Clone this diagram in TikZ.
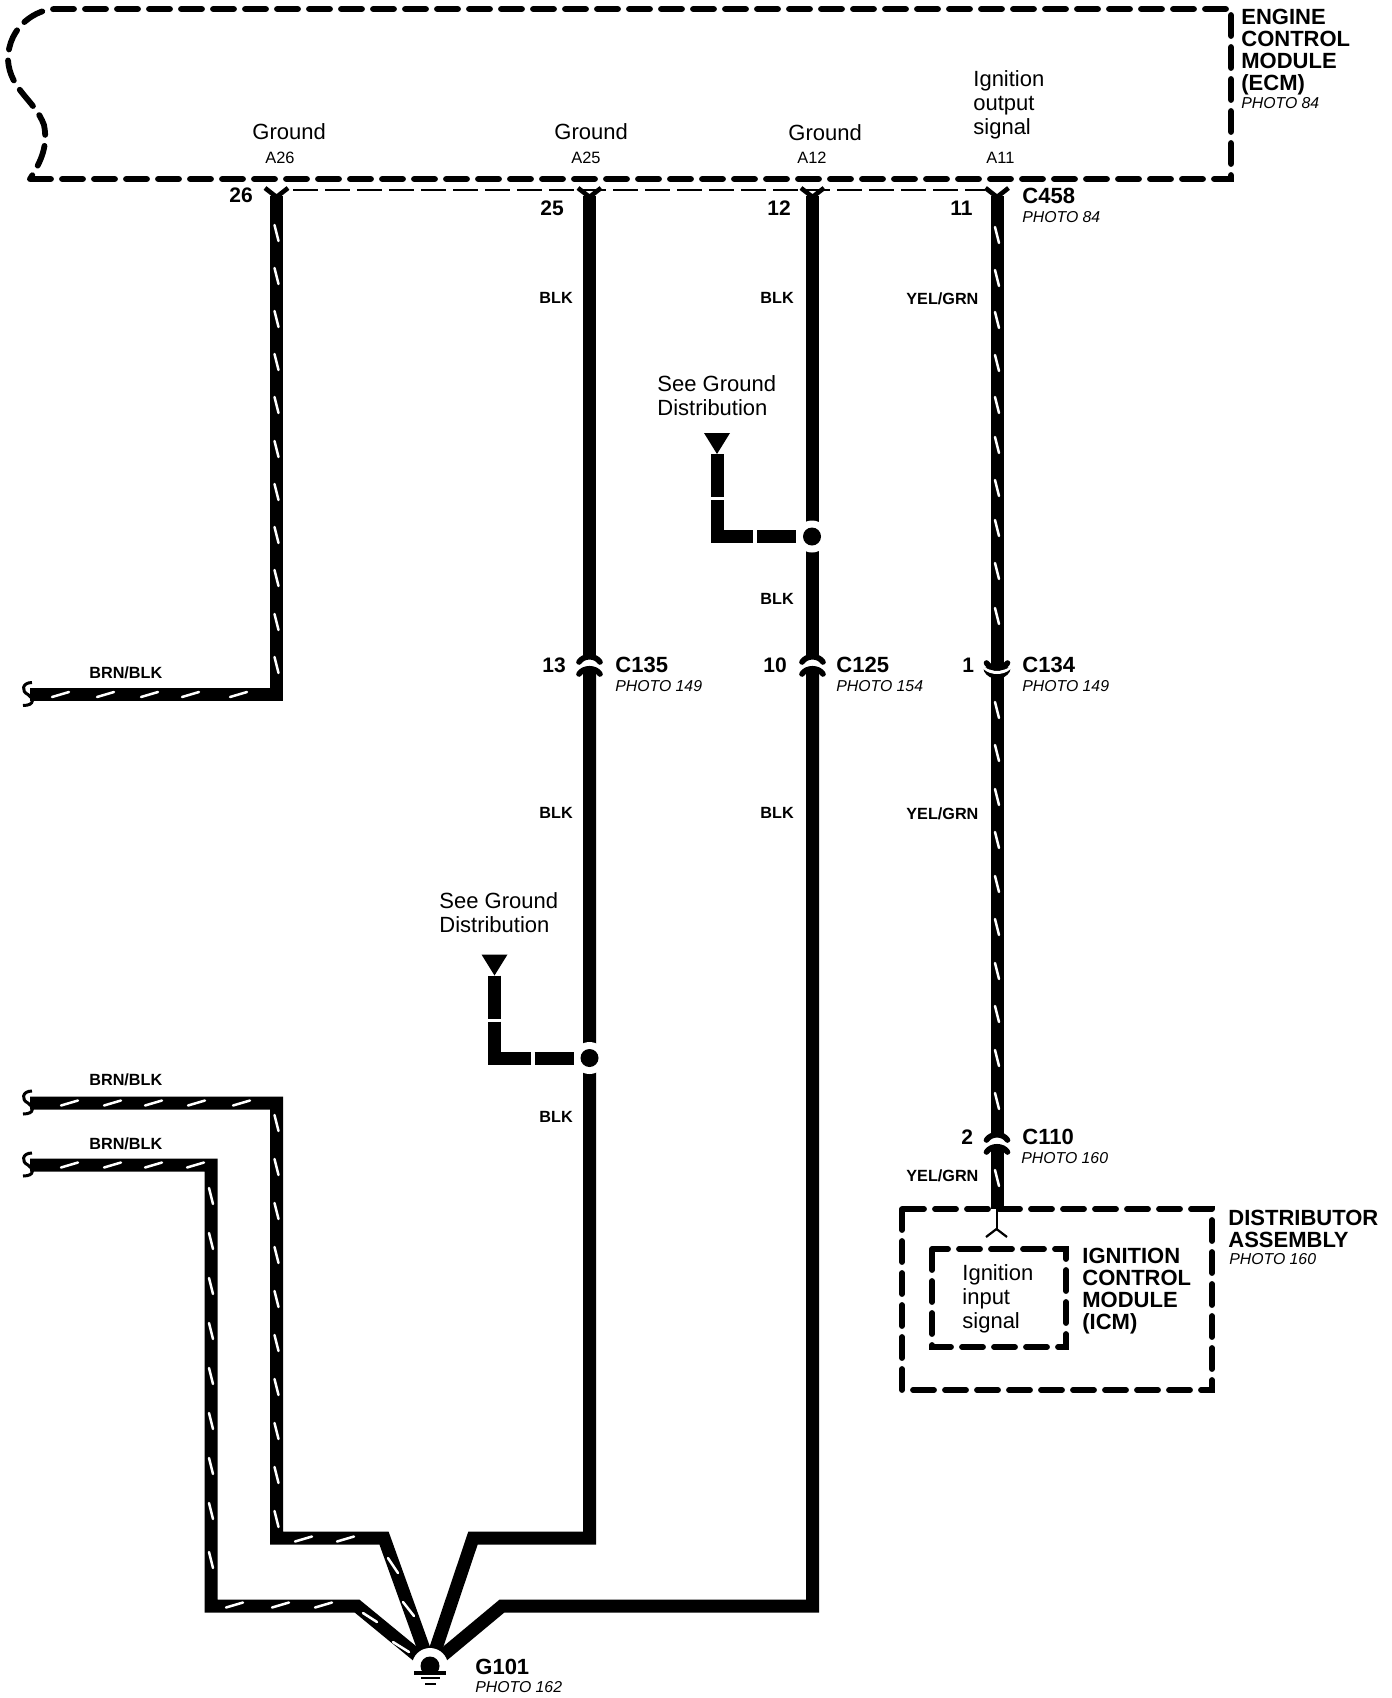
\documentclass[tikz,border=0pt]{standalone}
\usepackage{fontspec}
\setmainfont{Liberation Sans}
\tikzset{
  wire/.style={line width=6.5pt,line join=miter,miter limit=10},
  stripe/.style={white,line width=1.25pt,line cap=round},
  boxdash/.style={line width=2.9pt,line cap=round,dash pattern=on 10.5pt off 5.5pt},
  thindash/.style={line width=1.3pt,dash pattern=on 12.5pt off 3.5pt},
  conarc/.style={line width=2.8pt,line cap=round},
  forkline/.style={line width=2.3pt,line join=miter},
  txtbase/.style={inner sep=0pt,anchor=base west,align=left},
  titletxt/.style={txtbase,font=\fontsize{11}{11}\selectfont\bfseries},
  sigtxt/.style={txtbase,font=\fontsize{11}{12}\selectfont},
  pintxt/.style={txtbase,font=\fontsize{8.2}{9}\selectfont},
  numtxt/.style={txtbase,font=\fontsize{10.5}{11}\selectfont\bfseries},
  conntxt/.style={txtbase,font=\fontsize{11}{12}\selectfont\bfseries},
  phototxt/.style={txtbase,font=\fontsize{7.9}{9}\selectfont\itshape},
  codetxt/.style={txtbase,font=\fontsize{8.1}{9}\selectfont\bfseries}
}
% vertical tracer dashes: #1 x, #2 list of y
\newcommand\vstripes[2]{\foreach \yy in {#2}{\draw[stripe] (#1-2,\yy) -- (#1+2,\yy+16);}}
% horizontal tracer dashes: #1 y, #2 list of x
\newcommand\hstripes[2]{\foreach \xx in {#2}{\draw[stripe] (\xx,#1+2.5) -- (\xx+17,#1-2.5);}}
% mating connector, arcs bulging upward
\newcommand\conup[2]{%
  \draw[conarc] (#1-10.5,#2+8) .. controls (#1-6,#2+1) and (#1+6,#2+1) .. (#1+10.5,#2+8);
  \draw[conarc] (#1-10.5,#2+20) .. controls (#1-6,#2+13) and (#1+6,#2+13) .. (#1+10.5,#2+20);}
% loose wire end hook: #1 name of the wire end
\newcommand\hook[1]{\begin{scope}[shift={(#1)}]\draw[line width=1.5pt] (2,-12) .. controls (-8,-12) and (-9,-3) .. (-2,0) .. controls (3,3) and (6,11) .. (-7,11);\end{scope}}
% branch to ground distribution: #1 name, #2 x and #3 y of splice
\newcommand\gstub[3]{%
  \fill[white] (#2,#3) circle[radius=16];
  \fill (#2,#3) circle[radius=9];
  \coordinate (#1tip) at (#2-95,#3-82.5);
  \coordinate (#1a) at (#2-95,#3-39.5);
  \coordinate (#1b) at (#2-95,#3-36.5);
  \coordinate (#1c) at (#2-95,#3);
  \coordinate (#1d) at (#2-59,#3);
  \coordinate (#1e) at (#2-55,#3);
  \coordinate (#1f) at (#2-16,#3);
  \fill (#2-108,#3-103.5) -- (#2-82,#3-103.5) -- (#1tip) -- cycle;
  \draw[wire] (#1tip) -- (#1a);
  \draw[wire] (#1b) -- (#1c) -- (#1d);
  \draw[wire] (#1e) -- (#1f);}
\begin{document}
\begin{tikzpicture}[x=0.5pt,y=-0.5pt]
\fill[white] (0,0) rectangle (1392,1698);
\useasboundingbox (0,0) rectangle (1392,1698);

% ECM box
\draw[boxdash] (30,179) -- (1231,179) -- (1231,9) -- (55,9)
  .. controls (38,9) and (8,25) .. (8,60)
  .. controls (10,90) and (35,100) .. (44,125)
  .. controls (48,145) and (42,160) .. (30,179);
\coordinate (shieldL) at (293,190);
\coordinate (shieldR) at (985,190);
\draw[thindash] (shieldL) -- (shieldR);

% wire coordinates
\coordinate (gnd) at (430,1666);
\coordinate (a26) at (276.5,196);
\coordinate (e26) at (30,694.5);
\coordinate (c26) at (276.5,694.5);
\coordinate (a25) at (589.5,196);
\coordinate (u25) at (589.5,656);
\coordinate (l25) at (589.5,668);
\coordinate (b25) at (589.5,1538);
\coordinate (d25) at (473,1538);
\coordinate (a12) at (812.5,196);
\coordinate (u12) at (812.5,656);
\coordinate (l12) at (812.5,668);
\coordinate (b12) at (812.5,1606);
\coordinate (d12) at (502,1606);
\coordinate (a11) at (997,196);
\coordinate (u11) at (997,666);
\coordinate (l11) at (997,677);
\coordinate (u11b) at (997,1135);
\coordinate (l11b) at (997,1147);
\coordinate (b11) at (997,1209);
\coordinate (e1) at (30,1103);
\coordinate (c1) at (276.5,1103);
\coordinate (b1) at (276.5,1538);
\coordinate (d1) at (384,1538);
\coordinate (e2) at (30,1165);
\coordinate (c2) at (211,1165);
\coordinate (b2) at (211,1606);
\coordinate (d2) at (357,1606);

% wires
\draw[wire] (a26) -- (c26) -- (e26);
\draw[wire] (a25) -- (u25);
\draw[wire] (l25) -- (b25) -- (d25) -- (gnd);
\draw[wire] (a12) -- (u12);
\draw[wire] (l12) -- (b12) -- (d12) -- (gnd);
\draw[wire] (a11) -- (u11);
\draw[wire] (l11) -- (u11b);
\draw[wire] (l11b) -- (b11);
\draw[wire] (e1) -- (c1) -- (b1) -- (d1) -- (gnd);
\draw[wire] (e2) -- (c2) -- (b2) -- (d2) -- (gnd);
\hook{e26} \hook{e1} \hook{e2}

% connector forks at C458
\foreach \px in {276.5,589.5,812.5,997}{
  \draw[forkline] (\px-11.5,188) -- (\px,197) -- (\px+11.5,188);
}

% tracers
\vstripes{276.5}{225,268,311,354,397,441,484,527,570,614,657}
\hstripes{694.5}{52,97,141,182,230}
\vstripes{997}{227,270,312,355,397,437,480,520,563,608,702,745,789,832,876,919,963,1006,1050,1093,1170}
\vstripes{276.5}{1115,1159,1203,1247,1291,1335,1379,1423,1467,1511}
\hstripes{1103}{61,104,145,188,233}
\hstripes{1539}{295,337}
\vstripes{211}{1188,1233,1278,1323,1368,1413,1458,1503,1552}
\hstripes{1165}{61,104,145,187}
\hstripes{1605}{226,272,315}
\draw[stripe] (388,1558) -- (398,1573);
\draw[stripe] (403,1602) -- (414,1616);
\draw[stripe] (363,1613) -- (377,1622);
\draw[stripe] (393,1642) -- (409,1652);

% mating connectors
\conup{589.5}{654}
\conup{812.5}{654}
\conup{997}{1132}
\draw[conarc] (986.5,663) .. controls (991,670) and (1003,670) .. (1007.5,663);
\draw[conarc] (986.5,670) .. controls (991,678) and (1003,678) .. (1007.5,670);
\fill[white] (984,666.5) .. controls (991,672.5) and (1003,672.5) .. (1010,666.5) -- (1010,669.5) .. controls (1003,675.5) and (991,675.5) .. (984,669.5) -- cycle;

% splices and ground branches
\gstub{sa}{812}{536.5}
\gstub{sb}{589.5}{1058}

% ground symbol
\fill[white] (gnd) circle[radius=18];
\fill (430,1666) circle[radius=9.5];
\fill[white] (410,1672) rectangle (450,1680);
\coordinate (gb1) at (414,1673);
\coordinate (gb2) at (446,1673);
\coordinate (gc1) at (421,1678);
\coordinate (gc2) at (440,1678);
\coordinate (gd1) at (425,1684);
\coordinate (gd2) at (436,1684);
\draw[line width=1.7pt] (gb1) -- (gb2);
\draw[line width=0.8pt] (gc1) -- (gc2);
\draw[line width=0.8pt] (gd1) -- (gd2);

% distributor
\draw[boxdash] (902,1209) rectangle (1212,1390);
\draw[boxdash] (932,1249) rectangle (1066,1347);
\coordinate (y0) at (996.5,1209);
\coordinate (y1) at (996.5,1229);
\coordinate (y2) at (986,1237);
\coordinate (y3) at (1007,1237);
\draw[line width=1pt] (y0) -- (y1);
\draw[line width=1.1pt] (y2) -- (y1) -- (y3);

% ECM labels
\node[titletxt] (ecm) at (1241,90) {ENGINE\\CONTROL\\MODULE\\(ECM)};
\node[phototxt] (ecmp) at (1241,108) {PHOTO 84};
\node[sigtxt] (ios) at (973,134) {Ignition\\output\\signal};
\node[pintxt] (pA11) at (986,163) {A11};
\node[sigtxt] (g26) at (252,139) {Ground};
\node[pintxt] (pA26) at (265,163) {A26};
\node[sigtxt] (g25) at (554,139) {Ground};
\node[pintxt] (pA25) at (571,163) {A25};
\node[sigtxt] (g12) at (788,140) {Ground};
\node[pintxt] (pA12) at (797,163) {A12};
\node[numtxt] (n26) at (229,202) {26};
\node[numtxt] (n25) at (540,215) {25};
\node[numtxt] (n12) at (767,215) {12};
\node[numtxt] (n11) at (950,215) {11};
\node[conntxt] (c458) at (1022,203) {C458};
\node[phototxt] (c458p) at (1022,222) {PHOTO 84};

% colour codes
\node[codetxt] (bl1) at (539,303) {BLK};
\node[codetxt] (bl2) at (760,303) {BLK};
\node[codetxt] (bl3) at (760,604) {BLK};
\node[codetxt] (bl4) at (539,818) {BLK};
\node[codetxt] (bl5) at (760,818) {BLK};
\node[codetxt] (bl6) at (539,1122) {BLK};
\node[codetxt] (yg1) at (906,304) {YEL/GRN};
\node[codetxt] (yg2) at (906,819) {YEL/GRN};
\node[codetxt] (yg3) at (906,1181) {YEL/GRN};
\node[codetxt] (bb1) at (89,678) {BRN/BLK};
\node[codetxt] (bb2) at (89,1085) {BRN/BLK};
\node[codetxt] (bb3) at (89,1149) {BRN/BLK};

% connectors
\node[numtxt] (n13) at (542,672) {13};
\node[conntxt] (c135) at (615,672) {C135};
\node[phototxt] (c135p) at (615,691) {PHOTO 149};
\node[numtxt] (n10) at (763,672) {10};
\node[conntxt] (c125) at (836,672) {C125};
\node[phototxt] (c125p) at (836,691) {PHOTO 154};
\node[numtxt] (n1) at (962,672) {1};
\node[conntxt] (c134) at (1022,672) {C134};
\node[phototxt] (c134p) at (1022,691) {PHOTO 149};
\node[numtxt] (n2) at (961,1144) {2};
\node[conntxt] (c110) at (1022,1144) {C110};
\node[phototxt] (c110p) at (1021,1163) {PHOTO 160};

% ground distribution notes
\node[sigtxt] (sg1) at (657,415) {See Ground\\Distribution};
\node[sigtxt] (sg2) at (439,932) {See Ground\\Distribution};

% distributor labels
\node[titletxt] (dist) at (1228,1247) {DISTRIBUTOR\\ASSEMBLY};
\node[phototxt] (distp) at (1229,1264) {PHOTO 160};
\node[titletxt] (icm) at (1082,1329) {IGNITION\\CONTROL\\MODULE\\(ICM)};
\node[sigtxt] (iis) at (962,1328) {Ignition\\input\\signal};

% ground labels
\node[conntxt] (g101) at (475,1674) {G101};
\node[phototxt] (g101p) at (475,1692) {PHOTO 162};
\end{tikzpicture}
\end{document}
